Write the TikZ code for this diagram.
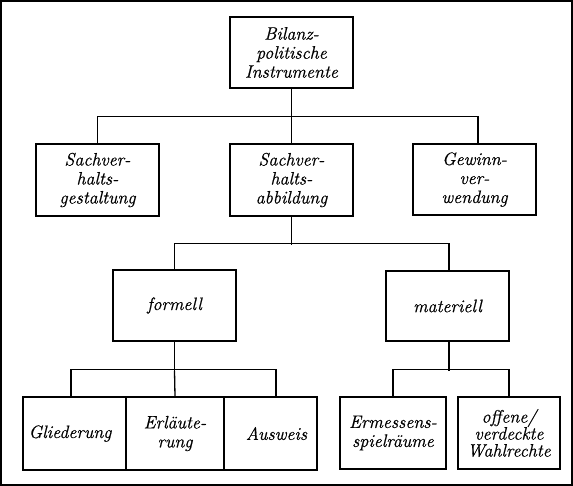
\documentclass[tikz,border=0pt]{standalone}
\usepackage{fontspec}
\newfontfamily\boxfont{Latin Modern Roman}[FakeBold=0.6]
\begin{document}
\begin{tikzpicture}[x=1pt,y=-1pt,
  box/.style={draw,line width=1.6pt,inner sep=0pt,align=center,
    font=\boxfont\itshape\fontsize{18}{19}\selectfont},
  conn/.style={line width=1.3pt},
  frame/.style={line width=2pt}]
\useasboundingbox (0,0) rectangle (573,486);
\draw[frame] (1,1) rectangle (572,485);
% level 0
\node[box,minimum width=123pt,minimum height=71pt] (top) at (291.5,52.5) {Bilanz-\\politische\\Instrumente};
% level 1
\node[box,minimum width=123pt,minimum height=72pt] (sg) at (97.5,180) {Sachver-\\halts-\\gestaltung};
\node[box,minimum width=123pt,minimum height=72pt] (sa) at (291.5,180) {Sachver-\\halts-\\abbildung};
\node[box,minimum width=123pt,minimum height=71pt] (gv) at (474.5,179.5) {Gewinn-\\ver-\\wendung};
% level 2
\node[box,minimum width=123pt,minimum height=71pt] (fo) at (174.5,305.5) {formell};
\node[box,minimum width=123pt,minimum height=70pt] (ma) at (447.5,306) {materiell};
% level 3
\node[box,minimum width=103pt,minimum height=73pt] (gl) at (74.5,433.5) {Gliederung\hspace{9pt}};
\node[box,minimum width=98pt,minimum height=73pt] (er) at (175,433.5) {Erläute-\\rung};
\node[box,minimum width=93pt,minimum height=73pt] (au) at (270.5,433.5) {\hspace{12pt}Ausweis};
\node[box,minimum width=106pt,minimum height=72pt] (es) at (393,433) {Ermessens-\\spielräume};
\node[box,minimum width=102pt,minimum height=72pt,font=\boxfont\itshape\fontsize{18}{17}\selectfont] (wr) at (509,433) {offene/\\verdeckte\\Wahlrechte};
% connectors
\draw[conn] (top.south) -- (sa.north);
\draw[conn] (sg.north) -- ++(0,-27) -| ([xshift=3.5pt]gv.north);
\draw[conn] (sa.south) -- ++(0,28) coordinate (j2);
\draw[conn] (fo.north) -- ++(0,-26) -| ([xshift=1.5pt]ma.north);
\draw[conn] (fo.south) -- ++(0,29) coordinate (j3);
\draw[conn] ([xshift=-3.5pt]gl.north) -- ++(0,-27) -| ([xshift=5.5pt]au.north);
\draw[conn] (j3) -- (er.north);
\draw[conn] ([xshift=1.5pt]ma.south) -- ++(0,29) coordinate (j4);
\draw[conn] (es.north) -- ++(0,-27) -| (wr.north);
\end{tikzpicture}
\end{document}
